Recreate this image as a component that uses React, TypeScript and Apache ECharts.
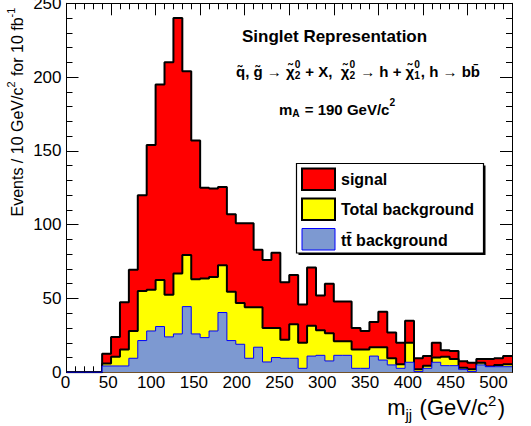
import React, { useEffect, useRef } from "react";
import * as echarts from "echarts";

// ---------- data (10 GeV bins from 0 to 500) ----------
const binStarts = [
  0, 10, 20, 30, 40, 50, 60, 70, 80, 90,
  100, 110, 120, 130, 140, 150, 160, 170, 180, 190,
  200, 210, 220, 230, 240, 250, 260, 270, 280, 290,
  300, 310, 320, 330, 340, 350, 360, 370, 380, 390,
  400, 410, 420, 430, 440, 450, 460, 470, 480, 490,
];
const BIN_WIDTH = 10;

// signal + background (red)
const signalHist = [
  0, 0, 0, 0, 12.5, 24, 47.5, 69.5, 120, 154,
  195, 210, 240, 204, 157, 125, 124.5, 125.5, 107, 101,
  101, 83, 76, 81, 61, 66, 46, 71, 52, 60,
  48, 48, 30, 28, 34, 41, 27, 20, 35, 9.5,
  11, 20, 15, 14.5, 7.5, 6.5, 9, 9, 9.5, 11,
];
// total background (yellow)
const totalBkgHist = [
  0, 0, 0, 0, 6, 10.5, 15.5, 28, 55, 56,
  62.5, 52.5, 67, 79.5, 63, 63.5, 64.5, 72.5, 54.5, 47,
  44, 44, 30, 30, 22, 32.5, 20, 31.5, 28.5, 26.5,
  21, 21, 15.5, 15.5, 17, 17, 9.5, 5.5, 20, 2,
  4.5, 10, 10.5, 9, 3, 2, 6.5, 4, 5, 5.5,
];
// ttbar background (blue)
const ttbarHist = [
  0, 0, 0, 0, 4.3, 4.3, 4.3, 9.5, 21.5, 28,
  31, 24, 26, 44.5, 26, 23.5, 28, 40.5, 21.5, 19,
  9.5, 17, 7, 10, 9.5, 9.5, 2.7, 11, 11.5, 7.7,
  11.5, 11.5, 2.7, 2.7, 11, 8.3, 5, 2.7, 6.8, 0.5,
  2.7, 6.8, 4.5, 4.5, 2, 0.5, 5, 3.8, 3.8, 3.8,
];

const X_MIN = 0;
const X_MAX = 500;
const X_STEP = 50;
const Y_MIN = 0;
const Y_MAX = 250;
const Y_STEP = 50;

const legendLabels = ["signal", "Total background", "tt\u0304 background"];

// ---------- styling ----------
const FONT = '"Liberation Sans", Arial, Helvetica, sans-serif';
const RED = "#ff0000";
const YELLOW = "#ffff00";
const BLUE_FILL = "#7d99d1";
const BLUE_LINE = "#0000ff";

type Seg = { t?: string; sup?: string; sub?: string };

function makeMeasure() {
  const c = document.createElement("canvas").getContext("2d")!;
  return (text: string, size: number, weight: string) => {
    c.font = `${weight} ${size}px ${FONT}`;
    return c.measureText(text).width;
  };
}

function run(
  measure: (t: string, s: number, w: string) => number,
  segs: Seg[],
  size: number,
  weight: string,
  x0: number,
  yc: number,
  align: "left" | "right",
  rotation = 0,
  supRaise = 0.42
) {
  const ss = size * 0.68;
  const items: any[] = [];
  let x = 0;
  const mk = (text: string, fs: number, dx: number, dy: number) => ({
    type: "text",
    x: dx,
    y: dy,
    style: {
      text,
      fontSize: fs,
      fontWeight: weight,
      fontFamily: FONT,
      fill: "#000",
      align: "left",
      verticalAlign: "middle",
    },
  });
  for (const s of segs) {
    if (s.t !== undefined) {
      const m = s.t.match(/^(\s*)([\s\S]*?)(\s*)$/)!;
      x += m[1] ? measure(m[1], size, weight) : 0;
      if (m[2]) {
        items.push(mk(m[2], size, x, 0));
        x += measure(m[2], size, weight);
      }
      x += m[3] ? measure(m[3], size, weight) : 0;
    } else {
      let w = 0;
      if (s.sup) {
        items.push(mk(s.sup, ss, x, -supRaise * size));
        w = Math.max(w, measure(s.sup, ss, weight));
      }
      if (s.sub) {
        items.push(mk(s.sub, ss, x, 0.32 * size));
        w = Math.max(w, measure(s.sub, ss, weight));
      }
      x += w + size * 0.06;
    }
  }
  const shift = align === "right" ? -x : 0;
  items.forEach((it) => (it.x += shift));
  return { type: "group", x: x0, y: yc, rotation, children: items };
}

function stepData(vals: number[]) {
  const pts = binStarts.map((x, i) => [x, vals[i]]);
  pts.push([binStarts[binStarts.length - 1] + BIN_WIDTH, vals[vals.length - 1]]);
  return pts;
}

export default function App() {
  const ref = useRef<HTMLDivElement>(null);

  useEffect(() => {
    if (!ref.current) return;
    const chart = echarts.init(ref.current, undefined, { renderer: "svg" });
    const measure = makeMeasure();

    const tilde = "\u0303";
    const chi = "\u03C7" + tilde;

    const graphics: any[] = [
      // titles
      run(measure, [{ t: "Singlet Representation" }], 17, "bold", 242, 36.5, "left"),
      run(
        measure,
        [
          { t: "q" + tilde + ", g" + tilde + " \u2192 " + chi },
          { sup: "0", sub: "2" },
          { t: " + X, " },
          { t: " " + chi },
          { sup: "0", sub: "2" },
          { t: " \u2192 h + " + chi },
          { sup: "0", sub: "1" },
          { t: ", h \u2192 bb\u0304" },
        ],
        15,
        "bold",
        236,
        71,
        "left"
      ),
      run(
        measure,
        [{ t: "m" }, { sub: "A" }, { t: " = 190 GeV/c" }, { sup: "2" }],
        15,
        "bold",
        279,
        109,
        "left"
      ),
      // axis titles
      run(
        measure,
        [{ t: "m" }, { sub: "jj" }, { t: " (GeV/c" }, { sup: "2" }, { t: ")" }],
        22,
        "normal",
        505,
        407,
        "right",
        0,
        0.3
      ),
      run(
        measure,
        [
          { t: "Events / 10 GeV/c" },
          { sup: "2" },
          { t: " for 10 fb" },
          { sup: "-1" },
        ],
        16,
        "normal",
        17.5,
        216.5,
        "left",
        Math.PI / 2
      ),
      // legend box with shadow
      {
        type: "rect",
        shape: { x: 298.5, y: 165.5, width: 187, height: 89.5 },
        style: { fill: "#000" },
        z: 10,
      },
      {
        type: "rect",
        shape: { x: 296.5, y: 163.5, width: 187, height: 89.5 },
        style: { fill: "#fff", stroke: "#000", lineWidth: 1.2 },
        z: 11,
      },
      {
        type: "rect",
        shape: { x: 302, y: 168.5, width: 33, height: 21.5 },
        style: { fill: RED, stroke: "#000", lineWidth: 2 },
        z: 12,
      },
      {
        type: "rect",
        shape: { x: 302, y: 198.5, width: 33, height: 21.5 },
        style: { fill: YELLOW, stroke: "#000", lineWidth: 2 },
        z: 12,
      },
      {
        type: "rect",
        shape: { x: 302, y: 228.5, width: 33, height: 21.5 },
        style: { fill: BLUE_FILL, stroke: BLUE_LINE, lineWidth: 1 },
        z: 12,
      },
      ...legendLabels.map((lab, i) => ({
        type: "text",
        x: 341,
        y: 179 + i * 30.5,
        z: 12,
        style: {
          text: lab,
          fontSize: 16,
          fontWeight: "bold",
          fontFamily: FONT,
          fill: "#000",
          align: "left",
          verticalAlign: "middle",
        },
      })),
    ];

    const frameAxis = (extra: any) => ({
      type: "value",
      axisLine: { show: true, onZero: false, lineStyle: { color: "#000", width: 1 } },
      axisTick: { show: true, inside: true, length: 12, lineStyle: { color: "#000", width: 1 } },
      minorTick: { show: true, splitNumber: 5, length: 6, lineStyle: { color: "#000", width: 1 } },
      splitLine: { show: false },
      minorSplitLine: { show: false },
      axisLabel: { show: false },
      ...extra,
    });

    const option: any = {
      animation: false,
      backgroundColor: "#fff",
      grid: [
        { left: 66.5, right: 19, top: 3.3, bottom: 53.7, outerBoundsMode: "none", containLabel: false },
        { left: 65.5, right: 37.5, top: 3.3, bottom: 53.7, outerBoundsMode: "none", containLabel: false },
      ],
      xAxis: [
        frameAxis({ gridIndex: 0, position: "bottom", min: X_MIN, max: X_MAX, interval: X_STEP }),
        frameAxis({ gridIndex: 0, position: "top", min: X_MIN, max: X_MAX, interval: X_STEP }),
        {
          type: "value",
          gridIndex: 1,
          position: "bottom",
          min: X_MIN,
          max: X_MAX,
          interval: X_STEP,
          axisLine: { show: false },
          axisTick: { show: false },
          splitLine: { show: false },
          axisLabel: { show: true, color: "#000", fontSize: 17, fontFamily: FONT, margin: 2 },
        },
      ],
      yAxis: [
        frameAxis({
          gridIndex: 0,
          position: "left",
          min: Y_MIN,
          max: Y_MAX,
          interval: Y_STEP,
          axisLabel: { show: true, color: "#000", fontSize: 17, fontFamily: FONT, margin: 5 },
        }),
        frameAxis({ gridIndex: 0, position: "right", min: Y_MIN, max: Y_MAX, interval: Y_STEP }),
        { type: "value", gridIndex: 1, show: false, min: Y_MIN, max: Y_MAX },
      ],
      series: [
        {
          name: "signal",
          type: "line",
          xAxisIndex: 0,
          yAxisIndex: 0,
          step: "end",
          symbol: "none",
          data: stepData(signalHist),
          lineStyle: { color: "#000", width: 2 },
          itemStyle: { color: RED },
          areaStyle: { color: RED, opacity: 1 },
          z: 2,
        },
        {
          name: "Total background",
          type: "line",
          xAxisIndex: 0,
          yAxisIndex: 0,
          step: "end",
          symbol: "none",
          data: stepData(totalBkgHist),
          lineStyle: { color: "#000", width: 2 },
          itemStyle: { color: YELLOW },
          areaStyle: { color: YELLOW, opacity: 1 },
          z: 3,
        },
        {
          name: "tt background",
          type: "line",
          xAxisIndex: 0,
          yAxisIndex: 0,
          step: "end",
          symbol: "none",
          data: stepData(ttbarHist),
          lineStyle: { color: BLUE_LINE, width: 1 },
          itemStyle: { color: BLUE_FILL },
          areaStyle: { color: BLUE_FILL, opacity: 1 },
          z: 4,
        },
      ],
      graphic: graphics,
    };

    chart.setOption(option);
    return () => chart.dispose();
  }, []);

  return (
    <div
      ref={ref}
      style={{ position: "fixed", left: 0, top: 0, width: 531, height: 426, background: "#fff" }}
    />
  );
}
